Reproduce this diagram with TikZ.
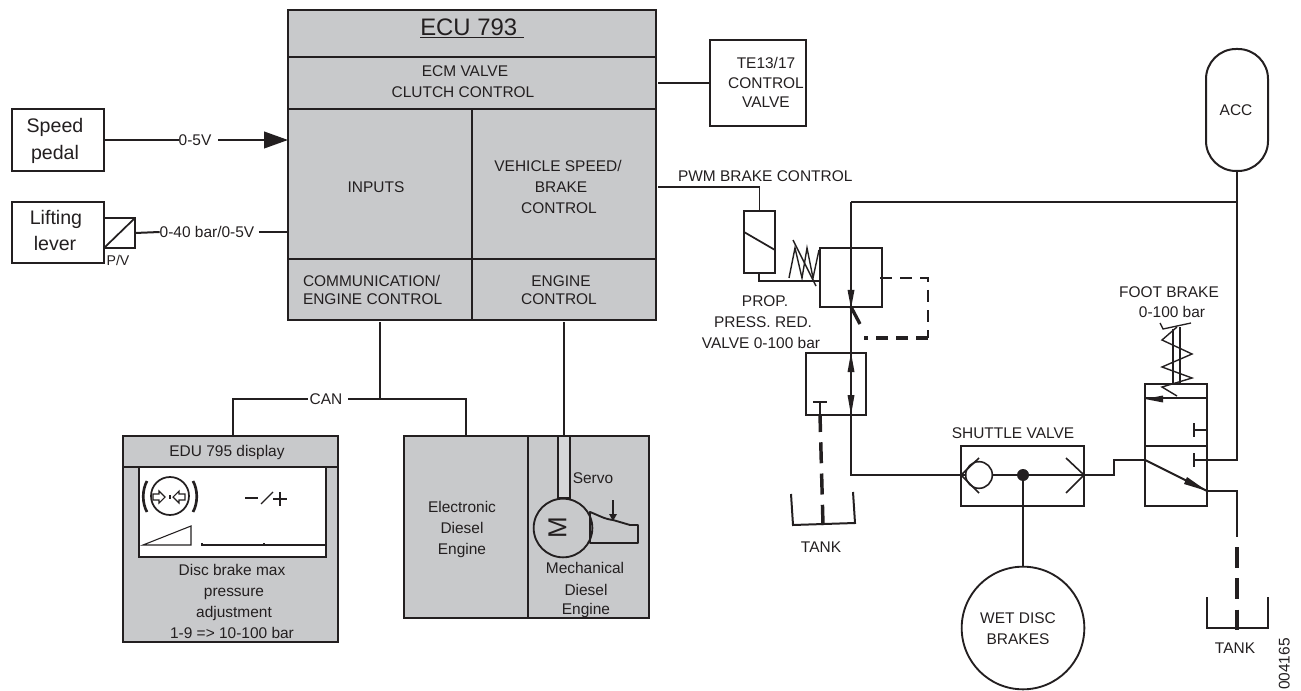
\documentclass[tikz,border=0pt]{standalone}
\usepackage{fontspec}
\setmainfont{Liberation Sans}
\usetikzlibrary{arrows.meta,calc}
\definecolor{ink}{HTML}{231F20}
\definecolor{panel}{HTML}{C8C9CB}
\definecolor{rodfill}{HTML}{D6D7D9}
\newcommand{\fs}[1]{\fontsize{#1}{#1}\selectfont}
\tikzset{
  x=.75pt,y=-.75pt,
  every path/.style={color=ink},
  bb/.style={draw=ink,line width=1.5pt,inner sep=0pt,outer sep=0pt},
  gb/.style={bb,fill=panel},
  lbl/.style={inner sep=0pt,outer sep=0pt,text=ink,font=\fs{11.6},text height=8.3pt,text depth=0pt,align=center},
  big/.style={lbl,font=\fs{14.7},text height=10.6pt},
  wire/.style={draw=ink,line width=1.5pt,line join=miter},
  thin/.style={draw=ink,line width=1.05pt},
  heavy/.style={draw=ink,line width=2.6pt,dash pattern=on 15.75pt off 7.7pt,dash phase=3pt},
  tipf/.style={fill=ink,draw=none},
  ring/.style={circle,draw=ink,inner sep=0pt,outer sep=0pt},
}
\newcommand{\bx}[7][gb]{%
  \pgfmathsetmacro\bw{(#5-#3)*.75}\pgfmathsetmacro\bh{(#6-#4)*.75}%
  \node[#1,minimum width=\bw pt,minimum height=\bh pt] (#2) at ({(#3+#5)/2},{(#4+#6)/2}) {#7};}
\begin{document}
\begin{tikzpicture}
\useasboundingbox (0,0) rectangle (1301,691);

% ECU
\bx{ecuTitle}{288}{10}{656}{57}{}
\bx{ecuClutch}{288}{57}{656}{109}{}
\bx{ecuInputs}{288}{109}{472}{259}{}
\bx{ecuSpeed}{472}{109}{656}{259}{}
\bx{ecuComm}{288}{259}{472}{320}{}
\bx{ecuEng}{472}{259}{656}{320}{}
\node[lbl,font=\fs{17.9},text height=12.9pt] (tEcu) at (472,27) {\underline{ECU 793\ }};
\node[lbl] (tEcm) at (465,71) {ECM VALVE};
\node[lbl] (tClutch) at (463,92) {CLUTCH CONTROL};
\node[lbl] (tInputs) at (376,187) {INPUTS};
\node[lbl] (tVeh) at (558,166) {VEHICLE SPEED/};
\node[lbl] (tBrake) at (561,187) {BRAKE};
\node[lbl] (tCtl) at (559,208) {CONTROL};
\node[lbl,anchor=west] (tComm) at (303,281) {COMMUNICATION/};
\node[lbl,anchor=west] (tEngC) at (303,299) {ENGINE CONTROL};
\node[lbl] (tEng) at (561,281) {ENGINE};
\node[lbl] (tCtl2) at (559,299) {CONTROL};

% TE13/17
\bx[bb]{te}{710}{40}{806}{126}{}
\node[lbl] (tTe) at (766,63) {TE13/17};
\node[lbl] (tTc) at (766,83) {CONTROL};
\node[lbl] (tTv) at (766,102) {VALVE};
\draw[wire,shorten <=1.5pt] (ecuClutch.east |- te.west) -- (te.west);

% Speed pedal
\bx[bb]{speed}{12}{109}{104}{171}{}
\node[big] (tSp) at (55,125) {Speed};
\node[big] (tPe) at (55,152) {pedal};
\node[lbl] (t05) at (195,140) {0-5V};
\draw[wire] (speed.east) -- (t05.west);
\draw[wire,-{Triangle[length=18pt,width=12.5pt]}] ([xshift=5pt]t05.east) -- (t05.east -| ecuInputs.west);

% Lifting lever
\bx[bb]{lift}{12}{202}{104}{263}{}
\node[big] (tLi) at (56,217) {Lifting};
\node[big] (tLe) at (55,243) {lever};
\bx[bb]{pv}{104}{218}{135}{248}{}
\draw[wire,line width=1.3pt] (pv.south west) -- (pv.north east);
\node[lbl,font=\fs{10.6}] (tPv) at (118,260) {P/V};
\node[lbl] (t040) at (207,232) {0-40 bar/0-5V};
\draw[wire] (pv.east) -- (t040.west);
\draw[wire] ([xshift=3.5pt]t040.east) -- (t040.east -| ecuInputs.west);

% CAN bus
\bx{edu}{123}{436}{338}{467}{}
\bx{eduBody}{123}{467}{338}{642}{}
\bx[bb,fill=white]{eduScreen}{139}{467}{326}{557}{}
\draw[bb,draw=ink] (edu.south west) -- (edu.south east);
\bx{elec}{404}{436}{528}{618}{}
\bx{mech}{528}{436}{649}{618}{}
\node[lbl] (tCan) at (326,399) {CAN};
\coordinate (canJ) at (ecuComm.south |- tCan);
\coordinate (canL) at (233,399);
\coordinate (eduTop) at (233,436);
\draw[wire,shorten <=1.5pt] (ecuComm.south) -- (canJ);
\draw[wire] ([xshift=-1.5pt]tCan.west) -- (canL) -- (eduTop);
\draw[wire] ([xshift=4.5pt]tCan.east) -- (canJ) -- (canJ -| elec.north) -- (elec.north);

% EDU text and display
\node[lbl] (tEdu) at (227,451) {EDU 795 display};
\node[lbl] (tD1) at (232,570) {Disc brake max};
\node[lbl] (tD2) at (234,591) {pressure};
\node[lbl] (tD3) at (234,612) {adjustment};
\node[lbl] (tD4) at (232,633) {1-9 => 10-100 bar};
\node[ring,line width=1.3pt,minimum size=28.5pt] (dial) at (170,496) {};
\draw[line width=2pt] (147,481) .. controls (142,490) and (142,503) .. (147,512);
\draw[line width=2pt] (193,481) .. controls (198,490) and (198,503) .. (193,512);
\draw[line width=.8pt] (153,494) -- (159,494) -- (159,491) -- (165,497) -- (159,503) -- (159,500) -- (153,500) -- cycle;
\draw[line width=.8pt] (185,494) -- (179,494) -- (179,491) -- (173,497) -- (179,503) -- (179,500) -- (185,500) -- cycle;
\fill[ink] (169,495) rectangle (171,499);
\draw[line width=.9pt] (245,498) -- (258,498);
\draw[line width=.9pt] (261,504) -- (273,492);
\draw[line width=.9pt] (273,499) -- (287,499) (280,492) -- (280,506);
\draw[line width=.8pt] (143,545) -- (191,526) -- (191,545) -- cycle;
\draw[line width=.9pt] (202,543) -- (202,545) -- (325,545) (264,543) -- (264,545);

% Engines
\node[lbl] (tEl1) at (462,507) {Electronic};
\node[lbl] (tEl2) at (462,528) {Diesel};
\node[lbl] (tEl3) at (462,549) {Engine};
\bx[bb,fill=rodfill]{rod}{558}{436}{570}{498}{}
\draw[wire,shorten <=1.5pt] (ecuEng.south) -- (rod.north);
\node[ring,line width=1.4pt,minimum size=44pt] (motor) at (563,528) {};
\node[lbl,font=\fs{19.5},text height=14pt,rotate=90] (tM) at (557,528) {M};
\draw[line width=1.4pt,line join=round] (590,512) .. controls (598,515) and (604,519) .. (613,520) -- (630,525) -- (638,525) -- (638,543) -- (590,543) -- cycle;
\draw[line width=1.1pt] (613,500) -- (613,514);
\fill[tipf] (609,514) -- (617,514) -- (613,521) -- cycle;
\node[lbl] (tServo) at (593,478) {Servo};
\node[lbl] (tMe1) at (585,568) {Mechanical};
\node[lbl] (tMe2) at (586,590) {Diesel};
\node[lbl] (tMe3) at (586,609) {Engine};

% PWM and proportional valve
\node[lbl,anchor=west] (tPwm) at (678,176) {PWM BRAKE CONTROL};
\bx[bb]{sol}{744}{211}{775}{273}{}
\bx[bb]{prop}{820}{248}{882}{307}{}
\bx[bb]{lower}{806}{353}{866}{415}{}
\draw[wire,line width=1.1pt,shorten <=1.5pt] (ecuSpeed.east |- 0,187) -- (sol.north |- 0,187) -- (sol.north);
\draw[wire,line width=1.3pt] (744,232) -- (775,250);
\coordinate (solOut) at (759,281);
\draw[wire] (759,273) -- (solOut) -- (solOut -| prop.west);
\draw[thin,line join=miter] (789,278) -- (795,248) -- (802,278) -- (807,248) -- (813,278) -- (819,250);
\draw[thin] (793,240) -- (816,286);
\node[lbl] (tP1) at (765,301) {PROP.};
\node[lbl] (tP2) at (763,322) {PRESS. RED.};
\node[lbl] (tP3) at (761,343) {VALVE 0-100 bar};

% Shuttle valve
\bx[bb]{shuttle}{961}{446}{1084}{506}{}
\node[lbl] (tSh) at (1013,433) {SHUTTLE VALVE};
\node[ring,line width=1.2pt,minimum size=20pt] (ball) at (979,475) {};
\draw[line width=1.2pt,line join=miter] (979,458) -- (961,475) -- (979,493);
\draw[line width=1.2pt,line join=miter] (1066,458) -- (1084,475) -- (1066,493);
\node[circle,fill=ink,inner sep=0pt,minimum size=9pt] (dot) at (1023,475) {};
\draw[wire] (ball.east) -- (1084,475);

% Main pressure line
\coordinate (topL) at (851,202);
\coordinate (botL) at (851,475);
\draw[wire] (topL) -- (botL) -- (ball.west);
\fill[tipf] (847.5,290) -- (854.5,290) -- (851,308) -- cycle;
\fill[tipf] (851,353) -- (847.5,372) -- (854.5,372) -- cycle;
\fill[tipf] (847.5,395) -- (854.5,395) -- (851,415) -- cycle;
\draw[draw=ink,line width=2.5pt] (851,307) -- (860,324);
\draw[draw=ink,line width=1.7pt,dash pattern=on 9pt off 6pt] (880,278) -- (928,278) -- (928,338);
\draw[draw=ink,line width=2.6pt,dash pattern=on 9pt off 6pt] (928,338) -- (864,338);

% Lower valve return to tank
\draw[wire] (813,402) -- (827,402);
\draw[wire] (820,402) -- (820,415);
\coordinate (tankA) at (823,525);
\draw[heavy] (820,415) -- (tankA);
\draw[wire] (791,494) -- (793,525) -- (855,523) -- (853,492);
\node[lbl] (tTank1) at (821,547) {TANK};

% Wet disc brakes
\node[ring,line width=1.4pt,minimum size=92pt] (wet) at (1023,628) {};
\node[lbl] (tW1) at (1018,618) {WET DISC};
\node[lbl] (tW2) at (1018,639) {BRAKES};
\draw[wire,line width=1.2pt] (dot) -- (wet.north);

% Foot brake valve
\bx[bb]{foot}{1145}{384}{1207}{506}{}
\draw[wire] (foot.west |- 0,398) -- (foot.east |- 0,398);
\draw[wire] (foot.west |- 0,446) -- (foot.east |- 0,446);
\fill[tipf] (1145,399) -- (1163,395.5) -- (1163,402.5) -- cycle;
\node[lbl] (tF1) at (1169,292) {FOOT BRAKE};
\node[lbl] (tF2) at (1172,312) {0-100 bar};
\draw[thin] (1173,329) -- (1173,384) (1180,327) -- (1180,384);
\draw[thin,line width=1pt,line join=miter] (1160,323) -- (1163,329) -- (1191,323);
\draw[thin,line join=miter] (1177,327) -- (1162,340) -- (1192,354) -- (1162,367) -- (1192,378) -- (1162,387) -- (1177,396);
\draw[wire] (1194,423) -- (1194,437) (1194,430) -- (1207,430);
\coordinate (inL) at (1145,460);
\coordinate (stepA) at (1114,460);
\coordinate (stepB) at (1114,475);
\draw[wire] (shuttle.east |- stepB) -- (stepB) -- (stepA) -- (inL);
\coordinate (outR) at (1207,491);
\draw[wire] (inL) -- (outR);
\fill[tipf] (1187,477) -- (1207,491) -- (1184,484) -- cycle;

% Accumulator
\bx[bb,rounded corners=22.5pt]{acc}{1206}{49}{1268}{171}{}
\node[lbl] (tAcc) at (1236,110) {ACC};
\coordinate (accTop) at (acc.south |- topL);
\coordinate (accLow) at (acc.south |- inL);
\draw[wire] (topL) -- (accTop);
\draw[wire] (acc.south) -- (accLow) -- (1194,460);
\draw[wire] (1194,453) -- (1194,467);

% Foot brake return to tank
\coordinate (outT) at (1237,491);
\coordinate (outD) at (1237,537);
\coordinate (tankB) at (1237,630);
\draw[wire] (outR) -- (outT) -- (outD);
\draw[heavy,dash phase=0pt] (1237,547) -- (tankB);
\draw[wire] (1207,597) -- (1207,628) -- (1268,628) -- (1268,597);
\node[lbl] (tTank2) at (1235,648) {TANK};
\node[lbl,rotate=90] (tCode) at (1284,664) {004165};
\end{tikzpicture}
\end{document}
